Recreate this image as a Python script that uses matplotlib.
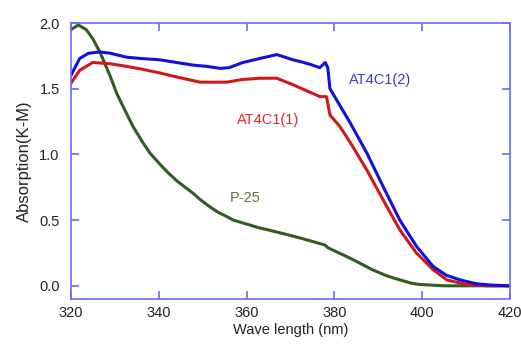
import matplotlib
matplotlib.use("Agg")
import matplotlib.pyplot as plt

# AT4C1(2) - blue
blue_x = [320, 322, 324, 326.6, 329, 332.7, 336, 340.3, 344, 347.8, 351, 354, 356,
          359.2, 363, 366.9, 370.6, 373, 375, 376.7, 377.9, 378.5, 379, 381.3,
          383.6, 387.4, 391.1, 394.9, 398.7, 402.5, 405.5, 408.6, 412.4, 416, 420]
blue_y = [1.60, 1.73, 1.77, 1.78, 1.77, 1.74, 1.73, 1.72, 1.70, 1.68, 1.67, 1.655, 1.66,
          1.70, 1.73, 1.76, 1.72, 1.70, 1.68, 1.66, 1.70, 1.66, 1.50, 1.37,
          1.24, 1.01, 0.755, 0.50, 0.30, 0.147, 0.08, 0.045, 0.015, 0.005, 0.0]

# AT4C1(1) - red
red_x = [320, 322, 325, 329, 332.7, 336, 340.3, 344, 349.4, 355.5, 359, 363, 366.9,
         370.6, 374, 376.7, 378.2, 379, 381.3, 384, 387.4, 391.1, 394.9, 398.7,
         402.5, 405.6, 410, 415, 420]
red_y = [1.54, 1.64, 1.70, 1.69, 1.67, 1.65, 1.62, 1.59, 1.55, 1.55, 1.57, 1.58, 1.58,
         1.53, 1.48, 1.44, 1.44, 1.30, 1.21, 1.07, 0.88, 0.654, 0.426, 0.249,
         0.122, 0.045, 0.01, 0.0, 0.0]

# P-25 - green
green_x = [320, 321.7, 323.5, 325, 326.6, 328.9, 330.5, 332.7, 334.2, 336.4, 338,
           340.3, 342, 344.1, 346, 347.8, 349.5, 351.7, 353.5, 355.5, 357, 359.2,
           361, 363, 365, 368, 372.2, 377.9, 378.5, 383.6, 388.8, 392, 394.9,
           397.5, 399.5, 405, 420]
green_y = [1.95, 1.985, 1.95, 1.88, 1.78, 1.60, 1.46, 1.31, 1.21, 1.09, 1.01,
           0.925, 0.865, 0.80, 0.75, 0.705, 0.655, 0.60, 0.56, 0.527, 0.50, 0.478,
           0.46, 0.44, 0.425, 0.40, 0.364, 0.31, 0.29, 0.21, 0.12, 0.075, 0.045,
           0.02, 0.01, 0.0, 0.0]

xticks = [320, 340, 360, 380, 400, 420]
yticks = [0.0, 0.5, 1.0, 1.5, 2.0]

plt.rcParams['font.family'] = ['Liberation Sans', 'DejaVu Sans']

fig = plt.figure(figsize=(5.21, 3.44), dpi=100)
ax = fig.add_axes([0.136, 0.131, 0.843, 0.802])

ax.plot(green_x, green_y, color='#2f5e1f', lw=2.2)
ax.plot(red_x, red_y, color='#d01818', lw=2.2)
ax.plot(blue_x, blue_y, color='#1010e0', lw=2.2)

ax.text(390.4, 1.57, 'AT4C1(2)', color='#3a3ad0', fontsize=10.5, ha='center', va='center')
ax.text(357.8, 1.26, 'AT4C1(1)', color='#e02828', fontsize=10.5, ha='left', va='center')
ax.text(356.2, 0.67, 'P-25', color='#6b6b3a', fontsize=10.5, ha='left', va='center')

ax.set_xlim(320, 420)
ax.set_ylim(-0.1, 2.0)
ax.set_xticks(xticks)
ax.set_yticks(yticks)
ax.set_yticklabels(['%.1f' % v for v in yticks])

spc = '#6a6aff'
for s in ax.spines.values():
    s.set_color(spc)
    s.set_linewidth(1.2)
ax.tick_params(direction='in', length=6, width=1.2, color=spc, top=True, right=True,
               labelsize=10.5, labelcolor='#222222')
ax.tick_params(axis='y', pad=8)
ax.tick_params(axis='x', pad=5)

ax.set_xlabel('Wave length (nm)', fontsize=10.5, color='#222222', labelpad=2)
ax.set_ylabel('Absorption(K-M)', fontsize=12, color='#222222', labelpad=5)

fig.savefig('out.png', dpi=100)
